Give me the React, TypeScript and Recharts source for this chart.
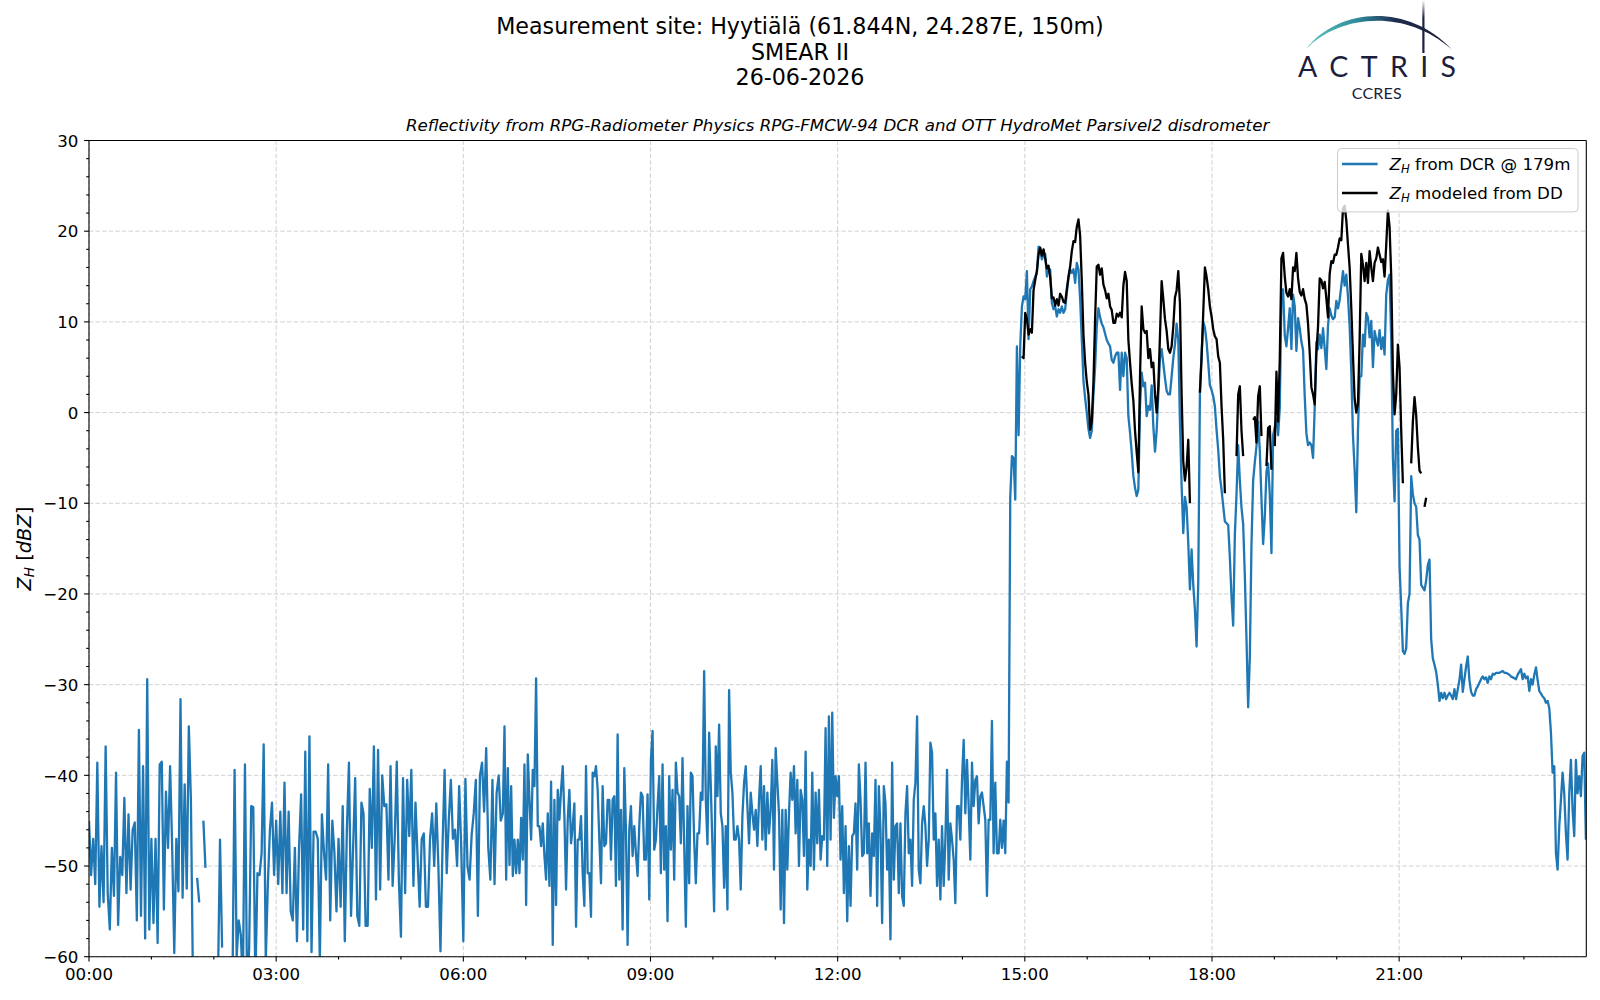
import React from 'react';
import { LineChart, Line, XAxis, YAxis, CartesianGrid, ReferenceLine, Legend } from 'recharts';

// ------------------------------------------------------------------
// Data (Z_H in dBZ).  Time axis is in minutes after 00:00 UTC.
// ------------------------------------------------------------------

// DCR night-time noise, 00:00 - 06:36, sampled every 2 minutes
const DCR_A_START_MIN = 0;
const DCR_A_STEP_MIN = 2;
const dcrNightA: (number | null)[] = [
  -45, -51, -47, -52, -38.6, -54.5, -47.8, -54, -36.8, -53,
  -57, -48, -53.3, -39.7, -56.5, -49, -51, -42.5, -53, -44.3,
  -52.6, -46, -45.2, -56, -35, -55.5, -39, -58, -29.4, -57,
  -47, -56.3, -47, -58.5, -38.8, -38.5, -54.8, -41.8, -48, -39,
  -48, -59.6, -47, -52.8, -31.6, -53.5, -41, -52.5, -34.6, -42.7,
  -63, null, -51.3, -54, null, -45, -50.2, null, null, null,
  null, null, -63, -47.1, -59, null, null, null, null, -63,
  -39.4, -60, -56, -57.6, -63, -38.8, -63, -59.2, -43.4, -43.5,
  -63, -50.8, -51, -48.6, -36.6, -60.5, -52, -46, -43, -51,
  -45, -52, -44, -53, -40.8, -53, -44, -55, -56, -48,
  -58.3, -48, -42.1, -57, -37.4, -58.3, -35.7, -59.5, -46.2, -46.2,
  -47, -60.5, -44.3, -48.5, -51.5, -38.8, -56, -45, -48.5, -55,
  -47, -54.5, -43.4, -58.3, -46, -38.6, -55.5, -48, -40.3, -55.5,
  -56.6, -43, -44.2, -56.6, -56.6, -41.5, -48, -36.8, -53.7, -37.2,
  -52.6, -40, -43.4, -43.2, -51.5, -39, -52.2, -47, -38.5, -51.5,
  -57.8, -40.3, -53, -40.5, -46.7, -39.4, -52.2, -43, -49, -54.5,
  -47, -46.4, -54.5, -54.5, -47, -44.2, -50, -43.1, -50, -59.4,
  -47.8, -39.4, -50.8, -45, -40.5, -47, -46, -50, -41.2, -48,
  -58.3, -40.4, -50, -51.5, -46.6, -44.2, -40.5, -55.5, -40, -38.6,
  -44, -37, -48, -51.5, -40.5, -52, -42, -40, -45,
];

// DCR night-time noise, 06:38 - 14:33, sampled every 1.6 minutes
const DCR_B_START_MIN = 398;
const STEP_MIN = 1.6;
const dcrNightB: number[] = [
  -44.2, -34.6, -51.5, -39.2, -49.9, -41.2, -51.1, -47.1, -50.8, -47.1,
  -50.8, -44.7, -49.3, -38.8, -54.3, -37.7, -42.7, -47.1, -39.4, -41.2,
  -29.3, -45.6, -45.6, -47.8, -45.3, -48.9, -51.5, -44.2, -52.2, -40.7,
  -58.7, -42.7, -54.3, -41.6, -44.9, -41.6, -39.0, -44.5, -52.6, -44.9,
  -41.6, -47.5, -45.6, -43.1, -56.7, -47.1, -47.1, -44.5, -50.8, -54.4,
  -39.0, -50.8, -50.8, -55.6, -39.7, -40.1, -39.0, -41.6, -47.1, -51.9,
  -41.2, -47.8, -47.5, -42.7, -42.7, -49.3, -42.7, -42.3, -52.2, -35.5,
  -51.5, -43.8, -57.0, -39.2, -46.0, -58.7, -46.0, -43.4, -48.9, -45.6,
  -48.6, -51.1, -45.6, -41.9, -42.3, -49.3, -49.3, -42.1, -53.7, -38.3,
  -35.1, -48.2, -47.1, -43.4, -40.1, -50.8, -38.8, -50.4, -45.6, -56.1,
  -40.1, -48.2, -41.6, -51.5, -38.6, -41.9, -42.3, -47.5, -38.1, -47.5,
  -56.7, -43.4, -51.9, -39.7, -40.1, -47.1, -51.9, -46.4, -46.4, -41.9,
  -42.7, -28.5, -42.7, -47.6, -35.3, -41.2, -47.8, -55.0, -36.8, -42.3,
  -34.4, -44.2, -45.6, -52.4, -45.6, -54.8, -30.6, -39.7, -41.9, -47.1,
  -47.1, -45.6, -47.1, -52.6, -44.5, -40.8, -39.0, -43.4, -47.5, -41.9,
  -44.2, -46.0, -43.8, -47.8, -42.7, -39.0, -47.1, -41.2, -48.2, -41.9,
  -46.4, -43.8, -38.3, -50.4, -37.0, -40.8, -44.2, -54.8, -43.8, -56.3,
  -43.8, -50.4, -44.2, -39.7, -42.7, -39.0, -46.4, -40.5, -50.0, -41.6,
  -42.7, -48.9, -37.4, -52.6, -47.1, -50.0, -39.7, -50.4, -41.9, -47.5,
  -41.6, -49.3, -46.7, -47.1, -34.8, -50.0, -33.5, -47.1, -33.1, -44.7,
  -40.1, -42.3, -40.1, -49.3, -43.4, -53.0, -45.6, -56.1, -47.8, -54.4,
  -46.7, -46.4, -43.1, -50.4, -38.8, -42.7, -48.9, -48.6, -38.6, -48.6,
  -45.3, -53.3, -46.4, -48.9, -40.5, -54.4, -41.2, -46.0, -56.3, -41.2,
  -43.1, -50.4, -47.1, -58.1, -38.6, -51.5, -45.6, -45.3, -53.0, -45.3,
  -53.3, -54.4, -44.2, -41.2, -48.6, -47.1, -52.2, -42.7, -40.8, -33.5,
  -50.4, -51.9, -45.3, -43.4, -45.6, -50.0, -47.1, -36.4, -37.5, -47.1,
  -44.2, -52.2, -47.1, -53.7, -45.6, -52.2, -47.1, -39.4, -51.5, -45.3,
  -47.1, -49.3, -54.1, -43.4, -43.4, -47.1, -40.5, -36.1, -44.2, -38.3,
  -43.4, -49.3, -38.6, -43.4, -40.5, -40.1, -45.3, -42.3, -41.9, -43.4,
  -44.9, -53.3, -44.9, -44.9, -34.0, -48.6, -40.8, -48.6,
];

// Precipitation period, 14:35 - 24:00, sampled every 1.6 minutes
const RAIN_START_MIN = 874.8;
const dcrRain: number[] = [
  -48.6, -44.9, -48.0, -45.0, -48.6, -38.5, -43.0, -9.4, -4.8, -5.0,
  -9.6, 7.3, -2.5, 7.3, 11.7, 12.8, 12.5, 15.6, 8.1, 13.6,
  13.9, 14.5, 15.0, 15.4, 18.3, 18.0, 16.9, 17.5, 17.5, 15.0,
  15.8, 15.8, 12.1, 11.4, 11.7, 10.6, 11.4, 11.0, 11.7, 11.0,
  11.4, 13.2, 14.8, 15.8, 15.4, 15.8, 14.3, 16.5, 15.8, 12.5,
  8.1, 3.5, 1.6, 0.0, -1.8, -2.8, -2.0, 2.0, 5.0, 9.5,
  11.5, 10.5, 9.8, 9.4, 8.7, 8.0, 7.6, 7.3, 5.8, 5.5,
  6.2, 6.6, 6.6, 2.5, 6.6, 4.0, 6.6, 6.0, -0.4, -2.2,
  -4.4, -7.0, -8.3, -9.2, -8.5, 0.7, 4.4, 2.9, 3.3, -0.4,
  0.7, 0.3, 3.0, -1.5, -4.3, -2.0, 2.0, 6.0, 7.0, 5.4,
  3.8, 2.4, 2.0, 2.0, 4.0, 6.0, 7.5, 9.8, 8.0, -1.0,
  -8.0, -13.3, -9.3, -10.4, -14.4, -19.5, -15.1, -19.0, -21.7, -25.8,
  -18.8, 2.2, 6.5, 10.0, 9.4, 7.8, 5.5, 3.0, 2.5, 1.8,
  0.7, -1.9, -4.1, -7.0, -8.5, -10.3, -12.0, -12.2, -12.4, -16.0,
  -20.3, -23.5, -13.5, -9.0, -3.6, -7.5, -10.5, -12.3, -18.0, -25.0,
  -32.5, -27.0, -14.5, -7.5, -5.5, -3.7, -1.0, -4.2, -9.5, -14.5,
  -11.5, -6.5, -5.6, -9.0, -15.5, -2.5, -1.6, -0.7, -2.5, 0.5,
  13.0, 13.6, 8.5, 7.3, 9.3, 11.5, 7.0, 13.0, 11.7, 6.8,
  10.4, 9.3, 7.8, 6.9, 1.8, -2.3, -3.6, -3.3, -3.6, -5.0,
  0.5, 7.8, 7.0, 8.6, 7.1, 9.3, 7.1, 4.8, 9.6, 11.5,
  10.7, 10.3, 10.5, 12.3, 11.5, 12.4, 14.0, 15.6, 14.0, 15.2,
  12.8, 9.5, 4.5, -2.5, -6.3, -11.0, -2.0, 4.0, 4.0, 8.6,
  7.3, 11.0, 10.5, 8.3, 10.1, 5.0, 9.0, 8.1, 7.4, 9.1,
  7.0, 8.3, 6.4, 13.0, 14.6, 15.2, 8.0, -5.0, -9.8, -2.0,
  -1.8, -17.0, -21.5, -26.3, -26.6, -26.0, -21.0, -20.0, -7.0, -9.0,
  -10.0, -10.4, -13.5, -14.0, -19.0, -19.3, -19.6, -18.5, -16.8, -16.2,
  -25.0, -27.1, -27.8, -28.6, -30.0, -31.8, -30.9, -31.5, -30.9, -31.6,
  -31.2, -30.9, -31.2, -31.6, -30.5, -31.6, -30.5, -29.5, -27.8, -30.8,
  -29.4, -28.0, -26.9, -29.5, -30.8, -31.2, -31.2, -30.5, -30.2, -29.8,
  -29.4, -29.1, -29.4, -29.2, -29.8, -29.1, -29.4, -28.8, -28.9, -28.7,
  -28.7, -28.7, -28.6, -28.5, -28.7, -28.7, -28.8, -28.9, -29.1, -29.2,
  -29.3, -29.4, -28.9, -28.6, -28.3, -29.4, -28.8, -29.3, -29.1, -30.7,
  -29.4, -30.0, -28.9, -28.1, -29.5, -30.7, -31.0, -31.3, -31.5, -32.0,
  -31.8, -32.6, -35.3, -39.7, -39.0, -48.6, -50.4, -45.6, -42.7, -39.7,
  -42.0, -46.4, -49.3, -42.0, -38.3, -43.8, -46.7, -38.3, -42.0, -40.1,
  -42.3, -37.9, -37.5, -47.1,
];

// Disdrometer-modelled Z_H on the same time grid as dcrRain
const ddRain: (number | null)[] = [
  null, null, null, null, null, null, null, null, null, null,
  null, null, null, null, 6.2, 6.0, 11.0, 10.3, 8.6, 9.2,
  8.8, 13.5, 14.6, 15.6, 17.4, 18.2, 17.3, 18.0, 17.0, 15.9,
  16.2, 14.9, 12.6, 12.7, 11.8, 12.5, 11.8, 13.1, 12.8, 12.2,
  12.1, 13.6, 15.0, 16.1, 17.8, 18.9, 18.8, 20.5, 21.3, 19.5,
  14.5, 8.6, 5.5, 3.4, 2.0, -1.9, -1.0, 3.3, 10.3, 16.1,
  16.3, 15.2, 15.9, 14.1, 13.5, 12.6, 13.1, 11.7, 11.3, 9.9,
  9.9, 10.9, 10.6, 11.0, 10.5, 14.0, 15.5, 14.5, 8.0, 5.5,
  3.2, 1.3, -2.0, -4.4, -6.6, 4.0, 11.7, 9.2, 8.8, 9.0,
  6.0, 7.0, 5.0, 5.5, 2.0, 0.0, 2.9, 8.5, 14.5, 12.5,
  10.3, 9.0, 7.0, 6.6, 7.3, 9.5, 12.7, 13.5, 15.6, 12.0,
  2.0, -5.4, -7.5, -6.0, -3.0, -10.0, null, null, null, null,
  null, 2.2, 6.0, 11.0, 16.0, 15.0, 13.6, 11.7, 10.6, 9.2,
  8.4, 8.1, 6.2, 5.5, 0.7, -3.0, -8.9, null, null, null,
  null, null, null, -4.8, 2.0, 2.9, -2.0, -4.8, null, null,
  null, null, null, -0.8, -0.5, -3.3, 1.8, 2.9, -2.6, null,
  null, -5.9, -1.7, -1.5, -6.3, null, -3.7, 4.5, -1.0, 5.9,
  17.0, 17.6, 15.0, 13.2, 12.8, 13.6, 12.5, 16.0, 15.6, 17.6,
  14.8, 13.3, 12.9, 13.6, 12.5, 11.9, 9.8, 6.6, 2.8, 2.0,
  0.9, 6.5, 9.5, 14.8, 14.6, 13.7, 14.4, 12.6, 10.5, 15.3,
  16.7, 16.5, 17.4, 17.4, 18.2, 19.2, 19.0, 22.5, 22.8, 21.2,
  18.5, 16.0, 11.5, 6.3, 1.5, 0.0, 1.0, 8.0, 17.5, 16.3,
  14.5, 16.5, 14.3, 17.8, 16.0, 14.5, 16.5, 17.0, 18.2, 17.4,
  16.6, 16.9, 15.0, 18.5, 22.3, 20.5, 15.0, 4.5, -0.2, 2.0,
  7.5, 5.0, -2.0, -7.8, null, null, null, null, -5.6, -1.0,
  1.7, -0.3, -3.8, -6.4, -6.7, null, -10.4, -9.4,
];

// Axis ticks and labels
const xMajorMinutes = [0, 180, 360, 540, 720, 900, 1080, 1260];
const xTickLabels = ['00:00', '03:00', '06:00', '09:00', '12:00', '15:00', '18:00', '21:00'];
const xAllHourMinutes = [
  0, 60, 120, 180, 240, 300, 360, 420, 480, 540, 600, 660, 720, 780,
  840, 900, 960, 1020, 1080, 1140, 1200, 1260, 1320, 1380,
];
const yMajorTicks = [-60, -50, -40, -30, -20, -10, 0, 10, 20, 30];
const yTickLabels = ['\u221260', '\u221250', '\u221240', '\u221230', '\u221220', '\u221210', '0', '10', '20', '30'];
const yAllTicks = [
  -60, -58, -56, -54, -52, -50, -48, -46, -44, -42, -40, -38, -36, -34, -32,
  -30, -28, -26, -24, -22, -20, -18, -16, -14, -12, -10, -8, -6, -4, -2,
  0, 2, 4, 6, 8, 10, 12, 14, 16, 18, 20, 22, 24, 26, 28, 30,
];
const seriesNames = ['$Z_H$ from DCR @ 179m', '$Z_H$ modeled from DD'];
const yAxisLabel = '$Z_H$ [$dBZ$]';
const titleLines = ['Measurement site: Hyytiälä (61.844N, 24.287E, 150m)', 'SMEAR II', '26-06-2026'];
const subTitle = 'Reflectivity from RPG-Radiometer Physics RPG-FMCW-94 DCR and OTT HydroMet Parsivel2 disdrometer';

// ------------------------------------------------------------------
type Row = { t: number; dcr: number | null; dd: number | null };
const rows: Row[] = [];
dcrNightA.forEach((v, i) => rows.push({ t: DCR_A_START_MIN + i * DCR_A_STEP_MIN, dcr: v, dd: null }));
dcrNightB.forEach((v, k) => rows.push({ t: DCR_B_START_MIN + k * STEP_MIN, dcr: v, dd: null }));
dcrRain.forEach((v, r) =>
  rows.push({ t: RAIN_START_MIN + r * STEP_MIN, dcr: v, dd: r < ddRain.length ? ddRain[r] : null })
);

const FONT = '"DejaVu Sans", Verdana, sans-serif';
const TICK_FS = 16.67;
const MAJOR_LEN = 4.9;
const MINOR_LEN = 2.8;
const LINE_W = 2.3;

function mathSpans(label: string, size: number) {
  const parts = label.split('$');
  const out: React.ReactNode[] = [];
  let shift = 0;
  let key = 0;
  parts.forEach((part, pi) => {
    if (!part) return;
    if (pi % 2 === 0) {
      out.push(
        <tspan key={key++} dy={-shift} fontStyle="normal" fontSize={size}>
          {part}
        </tspan>
      );
      shift = 0;
    } else {
      for (let i = 0; i < part.length; i++) {
        const ch = part[i];
        if (ch === '_' && i + 1 < part.length) {
          const s = size * 0.17;
          out.push(
            <tspan key={key++} dy={s - shift} fontStyle="italic" fontSize={size * 0.7}>
              {part[i + 1]}
            </tspan>
          );
          shift = s;
          i++;
        } else {
          out.push(
            <tspan key={key++} dy={-shift} fontStyle="italic" fontSize={size}>
              {ch}
            </tspan>
          );
          shift = 0;
        }
      }
    }
  });
  return out;
}

const XTick = (props: any) => {
  const { x, y, payload } = props;
  const idx = xMajorMinutes.indexOf(payload.value);
  const major = idx >= 0;
  return (
    <g>
      <line x1={x} x2={x} y1={y} y2={y + (major ? MAJOR_LEN : MINOR_LEN)} stroke="#000" strokeWidth={1.1} />
      {major && (
        <text x={x} y={y + 23} textAnchor="middle" fontFamily={FONT} fontSize={TICK_FS} fill="#000">
          {xTickLabels[idx]}
        </text>
      )}
    </g>
  );
};

const YTick = (props: any) => {
  const { x, y, payload } = props;
  const idx = yMajorTicks.indexOf(payload.value);
  const major = idx >= 0;
  return (
    <g>
      <line x1={x} x2={x - (major ? MAJOR_LEN : MINOR_LEN)} y1={y} y2={y} stroke="#000" strokeWidth={1.1} />
      {major && (
        <text x={x - 10.6} y={y + 6.2} textAnchor="end" fontFamily={FONT} fontSize={TICK_FS} fill="#000">
          {yTickLabels[idx]}
        </text>
      )}
    </g>
  );
};

const LegendBox = (props: any) => {
  const payload = props.payload || [];
  return (
    <svg width={242} height={65} style={{ display: 'block', overflow: 'visible' }}>
      <rect x={0.5} y={0.5} width={240.5} height={63.4} rx={4} ry={4} fill="rgba(255,255,255,0.8)" stroke="#cccccc" strokeWidth={1} />
      {payload.map((p: any, i: number) => (
        <g key={i}>
          <line x1={5} x2={40.6} y1={16 + 29 * i} y2={16 + 29 * i} stroke={p.color} strokeWidth={LINE_W} />
          <text x={52.6} y={22.4 + 29 * i} fontFamily={FONT} fontSize={TICK_FS} fill="#000">
            {mathSpans(String(p.value), TICK_FS)}
          </text>
        </g>
      ))}
    </svg>
  );
};

export default function App() {
  return (
    <div style={{ position: 'absolute', left: 0, top: 0, width: 1600, height: 1000, background: '#fff', overflow: 'hidden' }}>
      <LineChart
        width={1600}
        height={1000}
        data={rows}
        margin={{ top: 140.5, right: 13.7, bottom: 3.3, left: 29 }}
      >
        <CartesianGrid
          verticalValues={xMajorMinutes}
          horizontalValues={yMajorTicks}
          stroke="#cccccc"
          strokeWidth={0.9}
          strokeDasharray="4.4 2.2"
        />
        <XAxis
          dataKey="t"
          type="number"
          domain={[0, 1440]}
          allowDataOverflow
          ticks={xAllHourMinutes}
          interval={0}
          tick={(p: any) => <XTick {...p} />}
          tickLine={false}
          tickSize={0}
          tickMargin={0}
          height={40}
          axisLine={{ stroke: '#000', strokeWidth: 1.1 }}
        />
        <YAxis
          type="number"
          domain={[-60, 30]}
          allowDataOverflow
          ticks={yAllTicks}
          interval={0}
          tick={(p: any) => <YTick {...p} />}
          tickLine={false}
          tickSize={0}
          tickMargin={0}
          width={60}
          axisLine={{ stroke: '#000', strokeWidth: 1.1 }}
        />
        <Line
          type="linear"
          dataKey="dcr"
          name={seriesNames[0]}
          stroke="#1f77b4"
          strokeWidth={LINE_W}
          strokeLinejoin="round"
          dot={false}
          activeDot={false}
          isAnimationActive={false}
        />
        <Line
          type="linear"
          dataKey="dd"
          name={seriesNames[1]}
          stroke="#000000"
          strokeWidth={LINE_W}
          strokeLinejoin="round"
          dot={false}
          activeDot={false}
          isAnimationActive={false}
        />
        <ReferenceLine y={30} stroke="#000" strokeWidth={1.1} />
        <ReferenceLine x={1440} stroke="#000" strokeWidth={1.1} />
        <Legend
          layout="horizontal"
          verticalAlign="middle"
          align="center"
          wrapperStyle={{ position: 'absolute', left: 1336.7, top: 148.3, width: 242, height: 65 }}
          content={(p: any) => <LegendBox {...p} />}
        />
      </LineChart>

      <svg
        width={1600}
        height={1000}
        style={{ position: 'absolute', left: 0, top: 0, pointerEvents: 'none' }}
      >
        <defs>
          <linearGradient id="arcGrad" x1="1306" y1="0" x2="1452" y2="0" gradientUnits="userSpaceOnUse">
            <stop offset="0" stopColor="#5cc5bc" />
            <stop offset="0.35" stopColor="#2f8c9c" />
            <stop offset="0.62" stopColor="#1f2c4c" />
            <stop offset="1" stopColor="#1a1b38" />
          </linearGradient>
          <linearGradient id="poleGrad" x1="0" y1="0" x2="0" y2="52" gradientUnits="userSpaceOnUse">
            <stop offset="0" stopColor="#ffffff" />
            <stop offset="0.35" stopColor="#1c2040" />
            <stop offset="1" stopColor="#1c2040" />
          </linearGradient>
        </defs>
        {/* figure title (one multi-line text) */}
        <text textAnchor="middle" fontFamily={FONT} fontSize={22.2} fill="#000">
          <tspan x={800} y={33.6}>{titleLines[0]}</tspan>
          <tspan x={800} y={59.5}>{titleLines[1]}</tspan>
          <tspan x={800} y={85.4}>{titleLines[2]}</tspan>
        </text>
        <text x={837.6} y={131} textAnchor="middle" fontFamily={FONT} fontSize={16.67} fontStyle="italic" fill="#000">{subTitle}</text>
        {/* y label */}
        <text transform="translate(31,548.6) rotate(-90)" textAnchor="middle" fontFamily={FONT} fontSize={19.4} fill="#000">
          {mathSpans(yAxisLabel, 19.4)}
        </text>
        {/* ACTRIS logo */}
        <path
          d="M1306,49.3 C1335,10 1405,0 1451.7,49.3 C1403.5,6.5 1336.5,16 1306,49.3 Z"
          fill="url(#arcGrad)"
        />
        <rect x={1422.3} y={0} width={2.2} height={53} fill="url(#poleGrad)" />
        <text x={1298} y={77.3} fontFamily="Lato, 'Open Sans', sans-serif" fontWeight={400} fontSize={28.5} fill="#1b1e3c" textLength={158} lengthAdjust="spacing">ACTRIS</text>
        <text x={1351.7} y={99} fontFamily="Lato, 'Open Sans', sans-serif" fontSize={16} fill="#1b1e3c" textLength={50} lengthAdjust="spacing">CCRES</text>
      </svg>
    </div>
  );
}
